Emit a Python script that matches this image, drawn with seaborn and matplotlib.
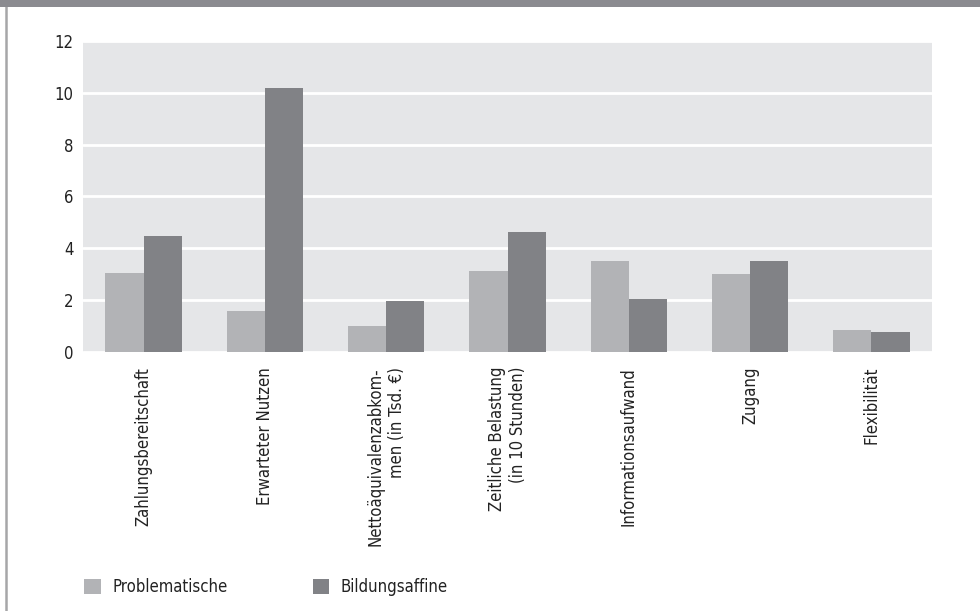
import matplotlib
matplotlib.use("Agg")
import matplotlib.pyplot as plt
import seaborn as sns
import pandas as pd
from matplotlib.patches import Rectangle
from matplotlib.lines import Line2D

categories = [
    "Zahlungsbereitschaft",
    "Erwarteter Nutzen",
    "Nettoäquivalenzabkom-\nmen (in Tsd. €)",
    "Zeitliche Belastung\n(in 10 Stunden)",
    "Informationsaufwand",
    "Zugang",
    "Flexibilität",
]
problematische = [3.05, 1.57, 0.99, 3.13, 3.51, 3.0, 0.83]
bildungsaffine = [4.48, 10.2, 1.96, 4.63, 2.04, 3.51, 0.76]
series_names = ["Problematische", "Bildungsaffine"]
yticks = [0, 2, 4, 6, 8, 10, 12]

df = pd.DataFrame({
    "Kategorie": categories * 2,
    "Wert": problematische + bildungsaffine,
    "Gruppe": [series_names[0]] * len(categories) + [series_names[1]] * len(categories),
})

sns.set_theme(style="white")
plt.rcParams["font.family"] = ["DejaVu Sans"]
plt.rcParams["font.stretch"] = "condensed"
plt.rcParams["text.color"] = "#222222"

fig = plt.figure(figsize=(9.8, 6.11), dpi=100)
ax = fig.add_axes([83 / 980, 1 - 351.7 / 611, (932 - 83) / 980, (351.7 - 41) / 611])
ax.set_facecolor("#e5e6e8")

sns.barplot(
    data=df, x="Kategorie", y="Wert", hue="Gruppe", ax=ax,
    palette=["#b2b3b6", "#818286"], width=0.63, saturation=1,
    linewidth=0, legend=True,
)

ax.set_ylim(0, 12)
ax.set_yticks(yticks)
ax.set_yticklabels([str(t) for t in yticks])
ax.yaxis.grid(True, color="white", linewidth=2)
ax.set_axisbelow(True)
for s in ax.spines.values():
    s.set_visible(False)
ax.set_xlabel("")
ax.set_ylabel("")
ax.tick_params(axis="y", length=0, pad=7, labelsize=12, colors="#222222")
ax.tick_params(axis="x", length=0, pad=11, labelsize=12, colors="#222222")
for lab in ax.get_xticklabels():
    lab.set_rotation(90)
    lab.set_ha("center")
    lab.set_va("top")
    lab.set_multialignment("right")
    lab.set_linespacing(1.25)

leg = ax.legend(
    loc="center left", bbox_to_anchor=(84 / 980, 1 - 587 / 611),
    bbox_transform=fig.transFigure, ncol=2, frameon=False, fontsize=12,
    handlelength=1.0, handleheight=1.0, handletextpad=0.7, columnspacing=5.1,
    borderaxespad=0, borderpad=0,
)

fig.patches.append(Rectangle((0, 1 - 7 / 611), 1, 7 / 611, transform=fig.transFigure,
                             facecolor="#8b8b90", edgecolor="none", zorder=5))
fig.lines.append(Line2D([6 / 980, 6 / 980], [0, 1], transform=fig.transFigure,
                        color="#a6a6a8", linewidth=1.8, zorder=4))

fig.savefig("out.png", dpi=100, facecolor="white")
